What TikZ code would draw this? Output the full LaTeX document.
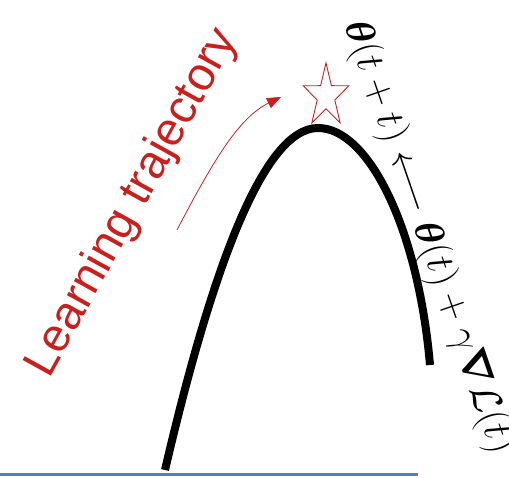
\documentclass[tikz,border=0pt]{standalone}
\usepackage{amsmath,bm}
\usepackage{fontspec}
\newfontfamily\labelfont{Liberation Sans}
\usetikzlibrary{arrows.meta,shapes.geometric}
\definecolor{trajred}{RGB}{200,32,30}
\definecolor{axisblue}{RGB}{79,129,189}
\tikzset{
  landscape/.style={line width=8pt, color=black, line cap=butt},
  trajarr/.style={-{Triangle[length=14pt,width=11pt]}, line width=0.8pt, color=trajred},
  trajtext/.style={font=\labelfont\fontsize{47}{56}\selectfont, text=trajred, inner sep=0pt},
  ruletext/.style={font=\fontsize{24}{28}\selectfont, inner sep=0pt, scale=1.6, transform shape},
  starmark/.style={star, star points=5, star point ratio=2.6, draw=trajred, line width=0.9pt,
                   minimum size=48pt, inner sep=0pt, yscale=1.38}}

\begin{document}
\begin{tikzpicture}[x=1pt, y=1pt]
  \useasboundingbox (0,0) rectangle (509,477);
  % ground line
  \coordinate (axisleft) at (0,3);
  \coordinate (axisright) at (418,3);
  \draw[axisblue, line width=3pt] (axisleft) -- (axisright);
  % loss landscape
  \coordinate (foot) at (165,7);
  \coordinate (peak) at (318,349);
  \coordinate (tail) at (430,112);
  \draw[landscape] (foot) .. controls (210,200) and (262,349) .. (peak)
                         .. controls (368,349) and (418,250) .. (tail);
  \node[starmark] (optimum) at (326,381) {};
  % trajectory arrow
  \coordinate (trajstart) at (177,247);
  \coordinate (trajend) at (281,380);
  \draw[trajarr] (trajstart) .. controls (215,320) and (240,360) .. (trajend);
  \node[trajtext, rotate=61] (trajlabel) at (133,274) {Learning trajectory};
  \node[ruletext, rotate=-71] (update) at (428,240)
    {$\bm{\theta}(t+t)\longleftarrow\bm{\theta}(t)+\gamma\bm{\nabla}\mathcal{L}(t)$};
\end{tikzpicture}
\end{document}
